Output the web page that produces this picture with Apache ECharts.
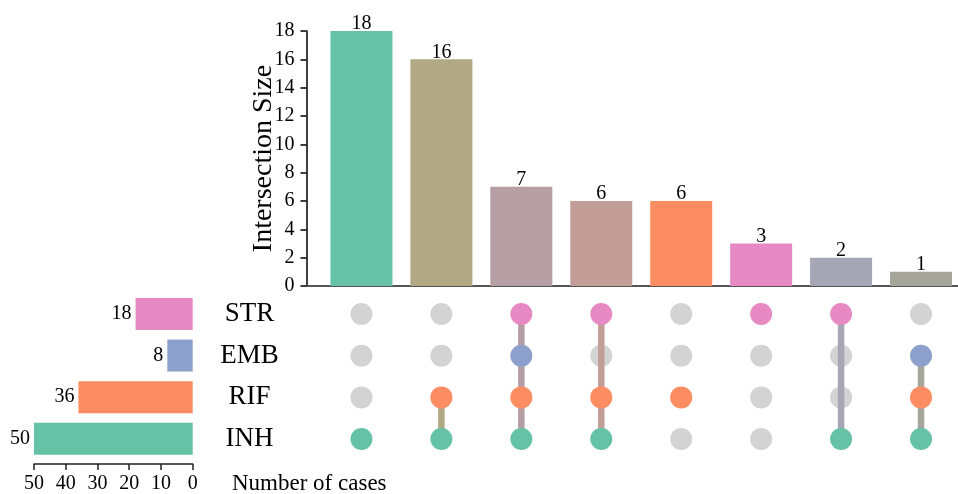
<!DOCTYPE html>
<html>
<head>
<meta charset="utf-8">
<script src="https://cdn.jsdelivr.net/npm/echarts@6/dist/echarts.min.js"></script>
<style>
  html, body { margin: 0; padding: 0; background: #fff; }
  #chart { width: 958px; height: 494px; }
</style>
</head>
<body>
<div id="chart"></div>
<script>
// Sets, their sizes and colours
const setNames = ['STR', 'EMB', 'RIF', 'INH'];
const setSizes = [18, 8, 36, 50];
const setColors = { STR: '#e78ac3', EMB: '#8da0cb', RIF: '#fc8d62', INH: '#66c2a5' };

// Intersections: size and member sets
const intersectionSizes = [18, 16, 7, 6, 6, 3, 2, 1];
const intersectionMembers = [
  ['INH'],
  ['RIF', 'INH'],
  ['STR', 'EMB', 'RIF', 'INH'],
  ['STR', 'RIF', 'INH'],
  ['RIF'],
  ['STR'],
  ['STR', 'INH'],
  ['EMB', 'RIF', 'INH']
];

// Axis tick settings
const sizeTicks = { min: 0, max: 18, interval: 2 };
const caseTicks = { min: 0, max: 50, interval: 10 };

const FONT = 'Liberation Serif';
const INACTIVE = '#d3d3d3';

// Mix member colours for an intersection
function blend(members) {
  let r = 0, g = 0, b = 0;
  members.forEach(m => {
    const h = setColors[m];
    r += parseInt(h.slice(1, 3), 16);
    g += parseInt(h.slice(3, 5), 16);
    b += parseInt(h.slice(5, 7), 16);
  });
  const n = members.length;
  const hx = v => Math.round(v / n).toString(16).padStart(2, '0');
  return '#' + hx(r) + hx(g) + hx(b);
}
const interColors = intersectionMembers.map(blend);

// Shared column axis range (columns sit at integer positions)
const colMin = -0.6875, colMax = 7.4625;

// Matrix dots
const grayDots = [], colorDots = [];
intersectionMembers.forEach((mem, i) => {
  setNames.forEach(s => {
    if (mem.includes(s)) colorDots.push({ value: [i, s], itemStyle: { color: setColors[s] } });
    else grayDots.push([i, s]);
  });
});

// Connector segments between the outermost members of each column
const connectorSeries = [];
intersectionMembers.forEach((mem, i) => {
  if (mem.length < 2) return;
  const idx = mem.map(m => setNames.indexOf(m));
  const top = setNames[Math.min(...idx)], bot = setNames[Math.max(...idx)];
  connectorSeries.push({
    type: 'line', xAxisIndex: 1, yAxisIndex: 1,
    data: [[i, top], [i, bot]],
    symbol: 'none', silent: true, z: 3,
    lineStyle: { color: interColors[i], width: 6.5, cap: 'butt' }
  });
});

const matrixTop = 293.2, matrixHeight = 166.7;

const option = {
  animation: false,
  textStyle: { fontFamily: FONT },
  grid: [
    { left: 306.5, right: 0, top: 31, height: 255 },
    { left: 306.5, right: 0, top: matrixTop, height: matrixHeight },
    { left: 34, width: 158.7, top: matrixTop, height: matrixHeight }
  ],
  xAxis: [
    {
      gridIndex: 0, type: 'value', min: colMin, max: colMax,
      axisLine: { show: true, onZero: false, lineStyle: { color: '#555', width: 2 } },
      axisTick: { show: false }, axisLabel: { show: false }, splitLine: { show: false }
    },
    {
      gridIndex: 1, type: 'value', min: colMin, max: colMax, show: false,
      axisLine: { onZero: false }
    },
    {
      gridIndex: 2, type: 'value', inverse: true,
      min: caseTicks.min, max: caseTicks.max, interval: caseTicks.interval,
      position: 'bottom', offset: 4.5,
      axisLine: { show: true, onZero: false, lineStyle: { color: '#222', width: 1.5 } },
      axisTick: { show: true, length: 6, lineStyle: { color: '#222', width: 1.5 } },
      axisLabel: { fontSize: 20, color: '#000', fontFamily: FONT, margin: 10 },
      splitLine: { show: false }
    }
  ],
  yAxis: [
    {
      gridIndex: 0, type: 'value',
      min: sizeTicks.min, max: sizeTicks.max, interval: sizeTicks.interval,
      name: 'Intersection Size', nameLocation: 'middle', nameGap: 29,
      nameMoveOverlap: false,
      nameTextStyle: { fontSize: 28, color: '#000', fontFamily: FONT },
      axisLine: { show: true, onZero: false, lineStyle: { color: '#000', width: 1.5 } },
      axisTick: { show: true, length: 6, lineStyle: { color: '#000', width: 1.5 } },
      axisLabel: { fontSize: 20, color: '#000', fontFamily: FONT, margin: 12 },
      splitLine: { show: false }
    },
    {
      gridIndex: 1, type: 'category', data: setNames, inverse: true,
      axisLine: { show: false, onZero: false }, axisTick: { show: false }, splitLine: { show: false },
      axisLabel: { fontSize: 27, color: '#000', fontFamily: FONT, align: 'center', margin: 57 }
    },
    {
      gridIndex: 2, type: 'category', data: setNames, inverse: true, show: false,
      axisLine: { onZero: false }
    }
  ],
  graphic: [
    {
      type: 'text', left: 232, top: 472,
      style: { text: 'Number of cases', font: '23px "Liberation Serif"', fill: '#000' }
    }
  ],
  series: [
    {
      type: 'bar', xAxisIndex: 0, yAxisIndex: 0, barWidth: 62,
      data: intersectionSizes.map((v, i) => ({ value: [i, v], itemStyle: { color: interColors[i] } })),
      label: { show: true, position: 'top', distance: -3, fontSize: 20, color: '#000', fontFamily: FONT,
               formatter: p => p.value[1] }
    },
    {
      type: 'scatter', xAxisIndex: 1, yAxisIndex: 1, symbolSize: 22, z: 2,
      itemStyle: { color: INACTIVE, opacity: 1 }, data: grayDots
    },
    ...connectorSeries,
    {
      type: 'scatter', xAxisIndex: 1, yAxisIndex: 1, symbolSize: 22, z: 4,
      itemStyle: { opacity: 1 }, data: colorDots
    },
    {
      type: 'bar', xAxisIndex: 2, yAxisIndex: 2, barWidth: 32,
      data: setSizes.map((v, i) => ({ value: v, itemStyle: { color: setColors[setNames[i]] } })),
      label: { show: true, position: 'left', distance: 4, fontSize: 20, color: '#000', fontFamily: FONT }
    }
  ]
};

const chart = echarts.init(document.getElementById('chart'), null, { renderer: 'canvas' });
chart.setOption(option);
</script>
</body>
</html>
